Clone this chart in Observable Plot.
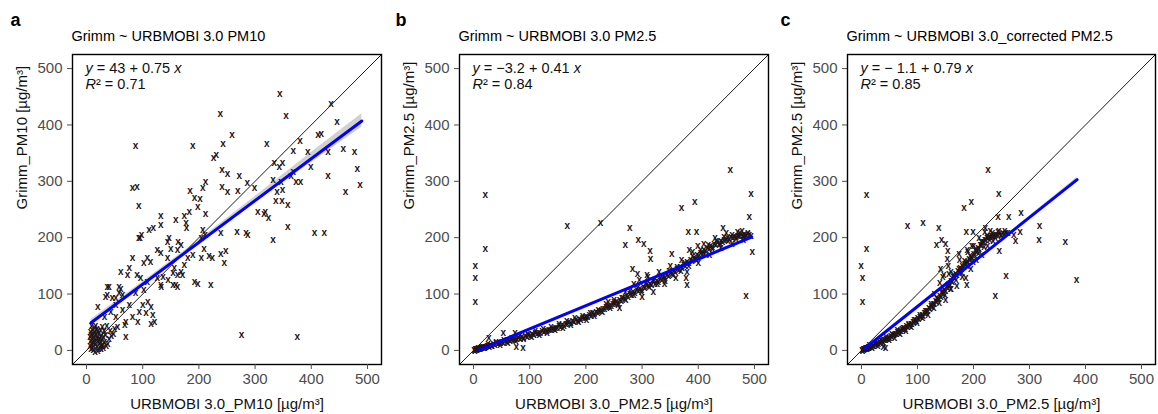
<!DOCTYPE html>
<html><head><meta charset="utf-8">
<script src="https://cdn.jsdelivr.net/npm/d3@7"></script>
<script src="https://cdn.jsdelivr.net/npm/@observablehq/plot@0.6"></script>
<style>
body{margin:0;background:#fff}
#wrap{position:relative;width:1158px;height:414px;display:flex;background:#fff}
#wrap svg{display:block;overflow:visible}
</style>
</head><body><div id="wrap"></div>
<script>
// ---------- DATA ----------
const tickValues = [0, 100, 200, 300, 400, 500];
const axisDomain = [-25, 525];
const panelLetters = ["a", "b", "c"];
const panelTitles = ["Grimm ~ URBMOBI 3.0 PM10", "Grimm ~ URBMOBI 3.0 PM2.5", "Grimm ~ URBMOBI 3.0_corrected PM2.5"];
const xLabels = ["URBMOBI 3.0_PM10 [µg/m³]", "URBMOBI 3.0_PM2.5 [µg/m³]", "URBMOBI 3.0_PM2.5 [µg/m³]"];
const yLabels = ["Grimm_PM10 [µg/m³]", "Grimm_PM2.5 [µg/m³]", "Grimm_PM2.5 [µg/m³]"];
const equations = ["y = 43 + 0.75 x", "y = −3.2 + 0.41 x", "y = − 1.1 + 0.79 x"];
const r2Values = ["0.71", "0.84", "0.85"];

// panel a points [URBMOBI, Grimm]
const pointsA = [
[344,455],[435,437],[238,419],[355,416],[87,363],[189,363],[259,382],[243,367],[321,367],[380,372],[412,382],[418,385],[446,406],
[231,347],[226,341],[368,354],[394,352],[430,352],[457,357],[477,352],[482,323],[487,293],[461,282],[430,310],[399,326],[334,332],
[343,326],[349,332],[368,317],[364,310],[373,300],[381,300],[332,303],[346,299],[349,285],[339,282],[337,266],[348,266],[358,258],
[286,297],[299,288],[269,283],[251,281],[241,291],[272,310],[241,321],[251,314],[212,300],[207,288],[184,283],[192,271],[202,269],
[198,255],[212,243],[183,246],[174,238],[159,232],[132,238],[177,226],[178,218],[119,218],[111,214],[132,222],[93,257],[82,289],
[90,291],[98,205],[95,199],[147,199],[144,193],[163,193],[168,187],[162,179],[207,214],[211,205],[204,199],[209,181],[218,168],
[204,164],[224,165],[239,171],[248,176],[245,155],[239,208],[268,211],[284,208],[287,205],[358,220],[332,196],[406,208],[423,209],
[305,246],[316,242],[324,235],[318,246],[93,199],[108,164],[114,158],[102,155],[82,164],[76,146],[90,134],[96,128],[61,140],[73,134],
[126,179],[132,173],[144,164],[150,181],[156,146],[162,134],[168,140],[174,152],[180,164],[189,170],[159,116],[132,116],[126,128],
[108,122],[61,110],[40,113],[37,99],[52,93],[58,102],[102,108],[87,102],[192,122],[198,119],[221,116],
[37,113],[58,113],[20,78],[34,96],[46,93],[64,99],[52,81],[43,69],[32,60],[52,60],[64,72],[76,81],[70,51],[68,45],[70,25],[82,60],
[94,69],[100,81],[109,87],[115,78],[106,66],[118,63],[115,48],[121,51],[91,51],[136,131],[154,137],[171,134],[133,113],[145,125],
[154,116],[162,113],[276,28],[375,25],
[8,2],[10,5],[12,8],[9,12],[11,15],[14,18],[10,20],[13,24],[8,27],[12,30],[15,33],[10,36],[14,40],[9,43],[16,44],[18,38],[20,34],
[17,28],[19,22],[21,16],[16,12],[18,6],[22,3],[25,8],[24,14],[23,20],[26,26],[22,30],[25,37],[28,42],[27,18],[30,24],[29,10],[32,16],
[34,28],[31,34],[6,8],[7,17],[6,24],[7,33],[12,1],[15,-2],[20,0],[26,2],[30,5],[35,8],[38,12],[40,20],[44,26],[42,34],[48,30],[50,38],
[55,42],[36,44]
];

// panel b points
const pointsB = [
[21,276],[21,180],[3,151],[3,128],[3,87],[167,221],[226,227],[457,320],[494,278],[491,237],[496,175],[485,97],[394,263],[370,253],
[278,218],[270,187],[293,197],[303,189],[314,177],[315,162],[283,144],[292,136],[309,135],[382,211],[397,211],[384,178],[399,185],
[353,172],[444,218],[478,213],[378,129],[380,117],[76,6],[88,4],[53,31],[74,32],[27,22],
[1,1],[2,0],[3,2],[4,1],[5,3],[6,1],[7,2],[8,4],[9,2],[10,3],[11,5],[12,3],[13,4],[14,6],[15,4],[17,6],[18,5],[20,7],[22,6],[24,8],
[26,9],[28,7],[30,10],[32,9],[35,11],[38,10],[40,13],[43,12],[46,14],[48,13],[50,15],[53,14],[56,17],[59,16],[62,18],[65,17],[68,19],
[71,18],[74,21],[77,20],[80,22],[83,21],[86,24],[89,23],[92,26],[95,25],[98,27],[101,26],[104,29],[107,28],[110,31],[113,30],[116,32],
[119,31],[122,34],[125,33],[128,35],[131,34],[134,37],[137,36],[140,39],[143,38],[146,41],[149,40],[152,43],[155,42],[158,45],[161,44],
[164,48],[167,47],[170,50],[173,49],[176,52],[179,51],[182,54],[185,53],[188,56],[191,55],[194,58],[197,57],[200,60],[203,59],[206,63],
[209,62],[212,66],[215,65],[218,68],[221,67],[224,71],[227,70],[230,74],[233,73],[236,77],[239,78],[242,80],[245,79],[248,83],[251,82],
[254,86],[257,85],[260,89],[263,88],[266,93],[269,92],[272,97],[275,95],[278,101],[281,99],[284,104],[287,103],[290,107],[293,105],
[296,110],[299,108],[302,113],[305,111],[308,116],[311,114],[314,119],[317,117],[320,121],[323,119],[326,124],[329,122],[332,127],
[335,125],[338,130],[341,128],[344,134],[347,132],[350,138],[353,136],[356,141],[359,139],[362,145],[365,143],[368,148],[371,146],
[374,152],[377,150],[380,157],[383,155],[386,161],[389,159],[392,165],[395,163],[398,170],[401,168],[404,174],[407,172],[410,178],
[413,176],[416,182],[419,180],[422,186],[425,184],[428,189],[431,187],[434,192],[437,190],[440,195],[443,193],[446,197],[449,196],
[452,199],[455,198],[458,201],[461,200],[464,202],[467,201],[470,204],[473,203],[476,205],[479,204],[482,206],[485,205],[488,207],
[491,206],[494,204],
[285,118],[295,125],[300,96],[310,130],[320,104],[330,140],[340,118],[350,150],[360,128],[370,160],[380,140],[390,175],[400,155],
[410,190],[420,170],[430,200],[440,182],[450,208],[460,190],[470,210],[480,196],[250,90],[260,76],[240,86],[270,104],
[20,4],[26,12],[33,8],[40,16],[47,10],[54,18],[61,14],[68,23],[75,17],[82,26],[89,20],[96,30],[103,24],[110,34],[117,28],[124,38],
[131,31],[138,42],[145,36],[152,47],[159,40],[166,52],[173,45],[180,57],[187,50],[194,62],[201,55],[208,67],[215,61],[222,72],[229,69],
[236,82],[243,76],[250,87],[257,81],[264,94],[271,89],[278,106],[285,99],[292,111],[299,104],[306,118],[313,113],[320,126],[327,118],
[334,132],[341,124],[348,141],[355,134],[362,149],[369,141],[376,156],[383,150],[390,168],[397,160],[404,178],[411,172],[418,187],
[425,180],[432,195],[439,189],[446,201],[453,194],[460,205],[467,198],[474,208],[481,201],[488,209]
];

// panel c points
const pointsC = [
[9,276],[9,180],[-1,151],[2,128],[2,87],[82,221],[110,227],[138,218],[226,320],[245,278],[196,263],[183,253],[134,187],[143,197],
[150,189],[154,177],[153,162],[141,144],[147,135],[156,136],[187,211],[199,211],[189,178],[197,186],[174,172],[221,218],[244,237],
[263,237],[245,212],[285,244],[283,211],[318,221],[317,196],[364,193],[384,126],[246,176],[258,133],[239,97],[186,129],[188,117],
[275,195],[272,206],[39,6],[43,4],
[1,1],[2,0],[3,2],[4,1],[5,3],[6,2],[7,4],[8,3],[9,4],[10,5],[11,4],[12,6],[13,5],[14,7],[15,6],[16,8],[18,7],[20,9],[22,8],[24,11],
[26,10],[28,13],[30,12],[32,15],[34,14],[36,17],[38,16],[40,19],[42,18],[44,21],[46,20],[48,23],[50,22],[52,26],[54,25],[56,28],
[58,27],[60,30],[62,29],[64,33],[66,32],[68,35],[70,34],[72,38],[74,37],[76,40],[78,39],[80,43],[82,42],[84,45],[86,44],[88,48],
[90,47],[92,51],[94,50],[96,54],[98,53],[100,57],[102,56],[104,60],[106,59],[108,63],[110,62],[112,67],[114,66],[116,71],[118,70],
[120,75],[122,74],[124,79],[126,78],[128,83],[130,82],[132,88],[134,87],[136,92],[138,91],[140,97],[142,96],[144,102],[146,101],
[148,107],[150,106],[152,112],[154,111],[156,118],[158,117],[160,124],[162,122],[164,130],[166,128],[168,136],[170,134],[172,141],
[174,139],[176,146],[178,144],[180,150],[182,149],[184,154],[186,153],[188,158],[190,157],[192,162],[194,161],[196,166],[198,165],
[200,171],[202,170],[204,176],[206,175],[208,182],[210,181],[212,188],[214,187],[216,193],[218,192],[220,197],[222,196],[224,200],
[226,199],[228,202],[230,201],[232,204],[234,203],[236,205],[238,204],[240,206],[243,205],[246,207],[249,206],[252,208],[255,207],
[258,209],[261,208],
[140,120],[150,90],[160,140],[170,115],[175,160],[180,130],[190,175],[195,145],[200,185],[205,160],[210,200],[215,170],[220,210],
[225,185],[230,212],[235,195],[160,110],[130,100],[145,130],[155,150],
[10,2],[14,10],[19,5],[24,14],[29,9],[34,18],[39,13],[44,24],[49,18],[54,29],[59,23],[64,36],[69,30],[74,41],[79,35],[84,48],[89,42],
[94,55],[99,49],[104,63],[109,57],[114,70],[119,64],[124,83],[129,76],[134,93],[139,85],[144,106],[149,98],[154,117],[159,110],
[164,134],[169,126],[174,145],[179,137],[184,159],[189,150],[194,167],[199,158],[204,181],[209,173],[214,193],[219,184],[224,204],
[229,196],[234,208],[239,200],[244,211],[249,203],[256,212]
];

// fitted regression lines (end points)
const fitA = [[8, 49], [490, 407]];
const fitB = [[10, 1], [495, 201]];
const fitC = [[5, 3], [385, 303]];
// confidence bands [x, low, high]
const ciA = [[8, 43, 55], [100, 114, 122], [200, 190, 196], [300, 263, 273], [400, 333, 351], [490, 396, 420]];
const ciB = [[10, -1, 3], [250, 99, 101], [495, 198, 204]];
const ciC = [[5, 1, 5], [200, 156, 158], [385, 299, 307]];
const diagonal = [-25, 525];

// ---------- LAYOUT ----------
const layout = [
  {width: 385, ml: 72, mr: 4},
  {width: 385, ml: 74, mr: 2},
  {width: 388, ml: 77, mr: 3}
];
const FONT = "'Liberation Sans', Arial, sans-serif";

function panel(i, pts, fit, ci) {
  const L = layout[i];
  const p = Plot.plot({
    width: L.width, height: 414,
    marginLeft: L.ml, marginRight: L.mr, marginTop: 54, marginBottom: 50,
    x: {domain: axisDomain},
    y: {domain: axisDomain},
    style: {fontFamily: FONT, fontSize: "15px", background: "#fff", overflow: "visible"},
    marks: [
      Plot.areaY(ci, {x: d => d[0], y1: d => d[1], y2: d => d[2], fill: "#9a9a9a", fillOpacity: 0.45}),
      Plot.line(diagonal, {x: d => d, y: d => d, stroke: "#000", strokeWidth: 0.9}),
      Plot.text(pts, {x: d => d[0], y: d => d[1], text: () => "x", fontSize: 10, fontWeight: "bold", fill: "#1e1418", fontFamily: FONT}),
      Plot.line(fit, {x: d => d[0], y: d => d[1], stroke: "#0000ff", strokeWidth: 3}),
      Plot.frame({stroke: "#000", strokeWidth: 1.4}),
      Plot.axisX({ticks: tickValues, tickSize: 5, tickPadding: 4, label: null, color: "#4d4d4d", fontSize: 15}),
      Plot.axisY({ticks: tickValues, tickSize: 5, tickPadding: 5, label: null, color: "#4d4d4d", fontSize: 15}),
      Plot.text([panelLetters[i]], {frameAnchor: "top-left", text: d => d, dx: 10 - L.ml, dy: -34,
        textAnchor: "start", lineAnchor: "middle", fontWeight: "bold", fontSize: 18, fill: "#000"}),
      Plot.text([panelTitles[i]], {frameAnchor: "top-left", text: d => d, dx: -1, dy: -18,
        textAnchor: "start", lineAnchor: "middle", fontSize: 14.5, fill: "#000"}),
      Plot.text([equations[i]], {frameAnchor: "top-left", text: d => d, dx: 13, dy: 14,
        textAnchor: "start", lineAnchor: "middle", fontSize: 14.5, fill: "#111"}),
      Plot.text(["R² = " + r2Values[i]], {frameAnchor: "top-left", text: d => d, dx: 13, dy: 30,
        textAnchor: "start", lineAnchor: "middle", fontSize: 14.5, fill: "#111"}),
      Plot.text([xLabels[i]], {frameAnchor: "bottom", text: d => d, dy: 40, lineAnchor: "middle", fontSize: 15, fill: "#111"}),
      Plot.text([yLabels[i]], {frameAnchor: "left", text: d => d, dx: -50, rotate: -90, lineAnchor: "middle", fontSize: 15, fill: "#111"})
    ]
  });
  // italicise variables in the equation text
  p.querySelectorAll("text").forEach(t => {
    const s = t.textContent;
    const NS = "http://www.w3.org/2000/svg";
    if (s === equations[i]) {
      const body = s.slice(1, -1);
      t.textContent = "";
      const a = document.createElementNS(NS, "tspan");
      a.setAttribute("font-style", "italic"); a.textContent = "y";
      const b = document.createElementNS(NS, "tspan");
      b.textContent = body;
      const c = document.createElementNS(NS, "tspan");
      c.setAttribute("font-style", "italic"); c.textContent = "x";
      t.append(a, b, c);
    } else if (s === "R² = " + r2Values[i]) {
      t.textContent = "";
      const a = document.createElementNS(NS, "tspan");
      a.setAttribute("font-style", "italic"); a.textContent = "R";
      const b = document.createElementNS(NS, "tspan");
      b.textContent = "² = " + r2Values[i];
      t.append(a, b);
    }
  });
  return p;
}

const wrap = document.getElementById("wrap");
wrap.append(panel(0, pointsA, fitA, ciA));
wrap.append(panel(1, pointsB, fitB, ciB));
wrap.append(panel(2, pointsC, fitC, ciC));
</script>
</body></html>
